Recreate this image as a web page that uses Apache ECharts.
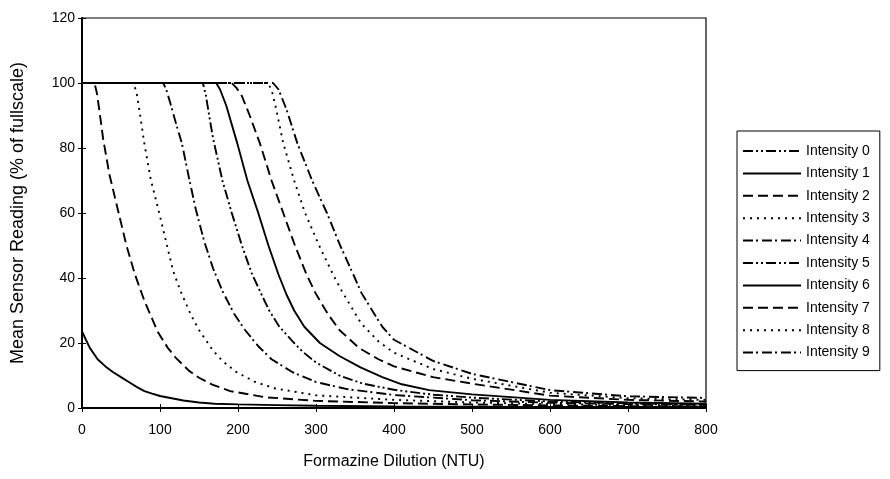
<!DOCTYPE html>
<html><head><meta charset="utf-8">
<script src="https://cdn.jsdelivr.net/npm/echarts@6/dist/echarts.min.js"></script>
<style>html,body{margin:0;padding:0;background:#fff}#c{width:890px;height:479px}</style>
</head><body><div id="c"></div>
<script>
const seriesNames = ['Intensity 0','Intensity 1','Intensity 2','Intensity 3','Intensity 4','Intensity 5','Intensity 6','Intensity 7','Intensity 8','Intensity 9'];
const xTicks = [0,100,200,300,400,500,600,700,800];
const yTicks = [0,20,40,60,80,100,120];

const x0 = [0,100,200,300,400,500,600,700,800];
const y0 = [0,0,0,0,0,0,0,0,0];
const x1 = [0,5,10,20,30,40,50,60,70,80,90,100,115,130,150,170,200,250,300,400,500,600,700,800];
const y1 = [23.6,21,18.5,15,12.8,11,9.5,8,6.5,5.2,4.4,3.7,3,2.3,1.7,1.3,1.1,0.9,0.7,0.5,0.4,0.3,0.3,0.3];
const x2 = [0,16,19,22,27,35,47,57,68,80,97,110,120,137,150,167,190,235,300,400,500,600,700,800];
const y2 = [100,100,97,92,83,72,60,50,41,33,23.5,18.5,15.5,11.5,9.3,7.2,5.2,3.3,2.2,1.5,1.1,0.8,0.6,0.5];
const x3 = [0,66,70,74,79.5,88,99,108,117,128,140,150,167,180,197,222,248,300,400,500,600,700,800];
const y3 = [100,100,97,91,82,70.5,60,51,42,35,28.5,24,18,14.5,11.2,8,6,3.9,2.5,1.7,1.2,0.9,0.7];
const x4 = [0,104,108,113,120,128,137,146,157,168,180,195,209,226,243,270,300,340,400,500,600,700,800];
const y4 = [100,100,98,94,88,81.5,71,61,51,43,36,29,24,19,15,11,8,5.8,4,2.4,1.6,1.2,1];
const x5 = [0,155,159,163,168,180,192,205,217.5,230,240,253,270,282,300,330,360,400,450,500,600,700,800];
const y5 = [100,100,96,90,83,70,60,50,41.5,35,30,25,20.5,17.5,14,10,7.5,5.6,4.1,3.2,2,1.4,1.1];
const x6 = [0,172,177,185,199,212,226,239,252,262,272,285,305,330,357,385,410,445,500,600,700,800];
const y6 = [100,100,98,93,81.5,70,60,50,41,35,30,25,20,16,12.5,9.5,7.3,5.5,4.2,2.5,1.7,1.3];
const x7 = [0,192,198,205,215,228,243,258,273,288,299,315,330,355,380,400,450,500,600,700,800];
const y7 = [100,100,98.5,96,90,81.5,70,60,50,41,35.5,29,24,18.5,15,12.8,9.5,7.5,3.8,2.5,2];
const x8 = [0,238,243,248,258,272,286,304,322,333,358,380,400,450,500,600,700,800];
const y8 = [100,100,98,93,81.5,70,60,50,41,36,26,20.5,17,12,9,4.7,3,2.5];
const x9 = [0,245,252,262,276,295,314,331,348,358,385,400,450,500,600,700,800];
const y9 = [100,100,98,92,81.5,70,60,50,41,35.5,25,21,14.5,10.5,5.5,3.6,3.1];

const xs = [x0,x1,x2,x3,x4,x5,x6,x7,x8,x9];
const ys = [y0,y1,y2,y3,y4,y5,y6,y7,y8,y9];
const dashDotDot = [10,3,2,3,2,3];
const dashes = [10,5];
const dots = [2,5];
const dashDot = [10,3,2,4];
const styles = [dashDotDot,'solid',dashes,dots,dashDot,dashDotDot,'solid',dashes,dots,dashDot];

const chart = echarts.init(document.getElementById('c'), null, {renderer:'canvas'});
const font = 'Liberation Sans, Arial, sans-serif';
const baseX = {type:'value', min:0, max:800, interval:100, splitLine:{show:false}};
const baseY = {type:'value', min:0, max:120, interval:20, splitLine:{show:false}};
chart.setOption({
  backgroundColor:'#fff',
  animation:false,
  textStyle:{fontFamily:font,color:'#000'},
  grid:{left:82,right:184,top:18,bottom:71,show:true,borderColor:'#000',borderWidth:1.2,backgroundColor:'transparent'},
  legend:{
    orient:'vertical', left:737, top:131, data:seriesNames,
    itemWidth:58, itemHeight:14, itemGap:8.4, itemStyle:{opacity:0},
    borderColor:'#000', borderWidth:1, padding:[13,10,11,5],
    textStyle:{fontSize:14,color:'#000',fontFamily:font}
  },
  xAxis:[Object.assign({}, baseX, {
    name:'Formazine Dilution (NTU)', nameLocation:'middle', nameGap:46,
    nameTextStyle:{fontSize:16,color:'#000'},
    axisLine:{show:true,lineStyle:{color:'#000',width:2}},
    axisTick:{show:true,length:4,lineStyle:{color:'#000'}},
    axisLabel:{fontSize:14,color:'#000',margin:15,formatter:v=>xTicks.includes(v)?String(v):''}
  }), Object.assign({}, baseX, {
    position:'bottom', axisLine:{show:false}, axisLabel:{show:false},
    axisTick:{show:true,inside:true,length:4,lineStyle:{color:'#000'}}
  })],
  yAxis:[Object.assign({}, baseY, {
    name:'Mean Sensor Reading (% of fullscale)', nameLocation:'middle', nameGap:55,
    nameTextStyle:{fontSize:18,color:'#000'},
    axisLine:{show:true,lineStyle:{color:'#000',width:2}},
    axisTick:{show:true,length:4,lineStyle:{color:'#000'}},
    axisLabel:{fontSize:14,color:'#000',margin:7,formatter:v=>yTicks.includes(v)?String(v):''}
  }), Object.assign({}, baseY, {
    position:'left', axisLine:{show:false}, axisLabel:{show:false},
    axisTick:{show:true,inside:true,length:4,lineStyle:{color:'#000'}}
  })],
  series: seriesNames.map((n,i)=>({
    name:n, type:'line', symbol:'none', showSymbol:false,
    smooth:false,
    data: xs[i].map((x,j)=>[x,ys[i][j]]),
    lineStyle:{color:'#000',width:1.9,type:styles[i]},
    itemStyle:{color:'#000'},
    z: 2
  }))
});
</script></body></html>
